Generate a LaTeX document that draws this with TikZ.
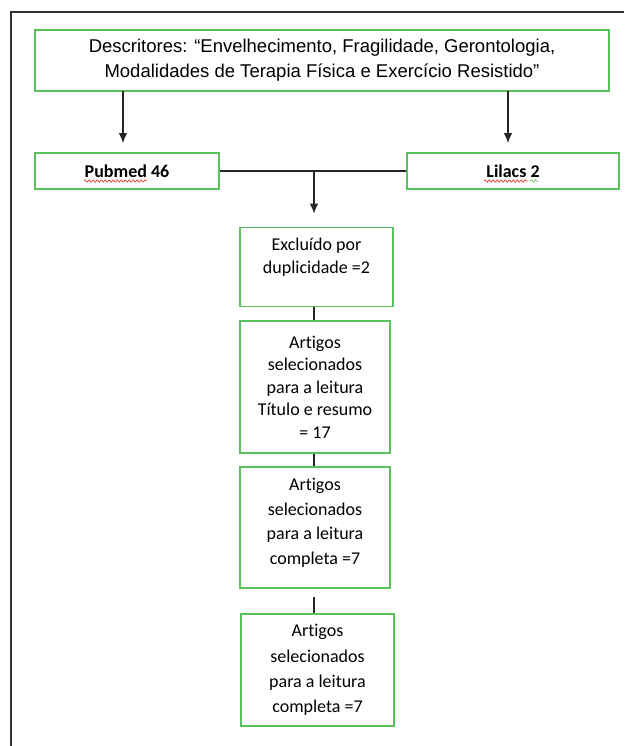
\documentclass[tikz,border=0pt]{standalone}
\usepackage{fontspec}
\setmainfont{Carlito}[Ligatures=NoCommon]
\newfontfamily\arialfont{Liberation Sans}
\usepackage{tikz}
\usetikzlibrary{arrows.meta,positioning,calc,decorations.pathmorphing}
\usepackage{xcolor}
\definecolor{boxgreen}{RGB}{92,192,92}
\definecolor{squigred}{RGB}{230,60,60}

\tikzset{
  greenbox/.style={draw=boxgreen,line width=1.6pt,align=center,inner sep=0pt},
  conn/.style={line width=1.5pt,black!85},
  arr/.style={conn,-{Latex[length=10pt,width=8.5pt]}},
  squig/.style={draw=#1,line width=0.7pt,decorate,decoration={snake,amplitude=1.2pt,segment length=4pt}}
}

\begin{document}
\begin{tikzpicture}[x=1pt,y=-1pt]
  \useasboundingbox (0,0) rectangle (624,746);
  % outer frame
  \draw[line width=1.3pt,black!80] (11,746) -- (11,12) -- (624,12);
  % boxes
  \node[greenbox,minimum width=574,minimum height=61,
        font=\arialfont\fontsize{18.5}{25}\selectfont] (desc) at (322,60.5)
    {Descritores: “Envelhecimento, Fragilidade, Gerontologia,\\
     Modalidades de Terapia Física e Exercício Resistido”};
  \node[greenbox,minimum width=184,minimum height=36,
        font=\bfseries\fontsize{18}{22}\selectfont] (pub) at (127,171) {Pubmed 46};
  \node[greenbox,minimum width=212,minimum height=36,
        font=\bfseries\fontsize{18}{22}\selectfont] (lil) at (513,171) {Lilacs 2};
  \node[greenbox,minimum width=153,minimum height=79,
        font=\fontsize{18}{23}\selectfont] (excl) at (316.5,267)
    {Excluído por\\duplicidade =2\\ \mbox{}};
  \node[greenbox,minimum width=150,minimum height=132,
        font=\fontsize{18}{22.5}\selectfont] (sel1) at (315,387)
    {Artigos\\selecionados\\para a leitura\\Título e resumo\\= 17};
  \node[greenbox,minimum width=150,minimum height=121,
        font=\fontsize{18}{24.5}\selectfont] (sel2) at (315,527.5)
    {Artigos\\selecionados\\para a leitura\\completa =7\\[-12pt]\mbox{}};
  \node[greenbox,minimum width=153,minimum height=112,
        font=\fontsize{18}{25.3}\selectfont] (sel3) at (317.5,670)
    {Artigos\\selecionados\\para a leitura\\completa =7};
  % spell-check marks
  \draw[squig=squigred] (84,181) -- (147,181);
  \draw[squig=squigred] (484,181) -- (528,181);
  \draw[squig=boxgreen] (530,181) -- (538,181);
  % connectors
  \coordinate (pubarr) at (123,91);
  \coordinate (lilarr) at (508,91);
  \coordinate (junc) at (314,171);
  \draw[arr,shorten >=9pt] (pubarr) -- (pubarr |- pub.north);
  \draw[arr,shorten >=9pt] (lilarr) -- (lilarr |- lil.north);
  \draw[conn] (pub.east) -- (lil.west);
  \draw[arr,shorten >=13pt] (junc) -- (junc |- excl.north);
  \draw[conn] (junc |- excl.south) -- (junc |- sel1.north);
  \draw[conn] (junc |- sel1.south) -- (junc |- sel2.north);
  \draw[conn,shorten <=8pt] (junc |- sel2.south) -- (junc |- sel3.north);
\end{tikzpicture}
\end{document}
